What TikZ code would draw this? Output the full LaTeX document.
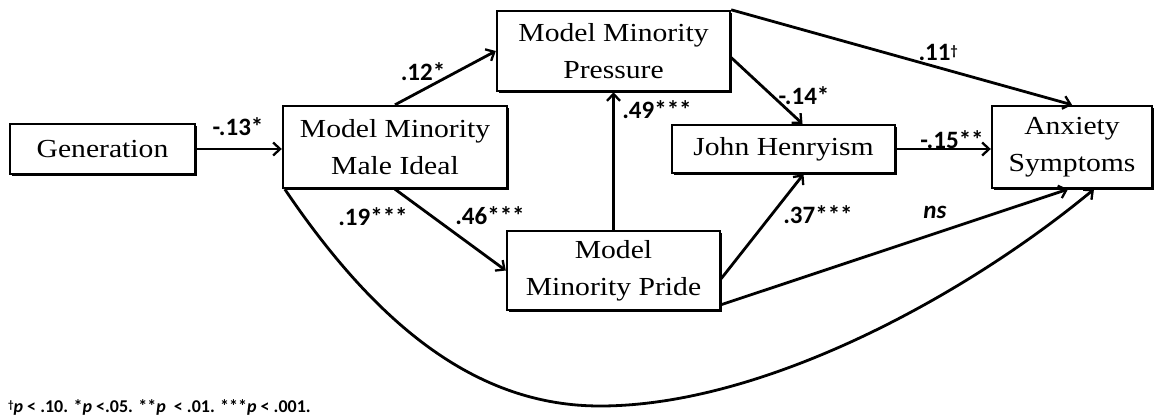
\documentclass[tikz,border=0pt]{standalone}
\usepackage{fontspec}
\setmainfont{Liberation Serif}[FakeStretch=1.14]
\newfontfamily\coeffont{Carlito}
\usetikzlibrary{arrows.meta,calc,shadows}

\begin{document}
\begin{tikzpicture}[x=1pt,y=-1pt,
  var/.style={draw, line width=2.4pt, fill=white, align=center, inner sep=0pt,
    font=\fontsize{26}{37}\selectfont,
    drop shadow={opacity=1, fill=black, shadow xshift=1.6pt, shadow yshift=-2pt}},
  conn/.style={line width=2.8pt,
    -{Straight Barb[length=7pt,width=13pt,line width=2.3pt]}},
  coef/.style={font=\coeffont\bfseries\fontsize{25}{28}\selectfont, inner sep=0pt},
  note/.style={font=\coeffont\bfseries\fontsize{18}{20}\selectfont, inner sep=0pt, anchor=base west}]

\useasboundingbox (0,0) rectangle (1156,420);

% variables
\node[var, minimum width=185pt, minimum height=50pt] (gen)   at (102.5,149) {Generation};
\node[var, minimum width=224pt, minimum height=82pt] (mmi)   at (395,147)   {Model Minority\\Male Ideal};
\node[var, minimum width=233pt, minimum height=80pt] (mmp)   at (613.5,51)  {Model Minority\\Pressure};
\node[var, minimum width=223pt, minimum height=48pt] (jh)    at (783.5,149) {John Henryism};
\node[var, minimum width=160pt, minimum height=82pt] (anx)   at (1072,147)  {Anxiety\\Symptoms};
\node[var, minimum width=213pt, minimum height=79pt] (pride) at (613.5,270.5) {Model\\Minority Pride};

% helper points on the box edges
\coordinate (mmpR)   at ($(mmp.north east)!0.58!(mmp.south east)$);
\coordinate (prideR) at ($(pride.north east)!0.6!(pride.south east)$);
\coordinate (prideL) at ($(pride.north east)!0.92!(pride.south east)$);
\coordinate (low)    at (600,406);

% paths
\draw[conn] (gen.east) -- (gen.east -| mmi.west);
\draw[conn] (mmi.north) -- (mmp.west);
\draw[conn] (mmi.south) -- (pride.west);
\draw[conn] (pride.north) -- (mmp.south);
\draw[conn] (mmpR) -- ([xshift=19pt]jh.north);
\draw[conn] (mmp.north east) -- (anx.north);
\draw[conn] (jh.east) -- (jh.east -| anx.west);
\draw[conn] (prideR) -- ([xshift=20pt]jh.south);
\draw[conn] (prideL) -- ([xshift=-4pt]anx.south);
\draw[conn] ([xshift=3pt]mmi.south west) .. controls (380,330) and (480,406) .. (low)
  .. controls (760,406) and (960,300) .. ([xshift=22pt]anx.south);

% coefficients
\node[coef] (c1) at (238,127) {-.13*};
\node[coef] (c2) at (423,72)  {.12*};
\node[coef] (c3) at (373,217) {.19***};
\node[coef] (c4) at (490,216) {.46***};
\node[coef] (c5) at (657,110) {.49***};
\node[coef] (c6) at (804,96)  {-.14*};
\node[coef] (c7) at (938,52)  {.11\raisebox{5pt}{\fontsize{14}{14}\selectfont\textdagger}};
\node[coef] (c8) at (952,140) {-.15**};
\node[coef] (c9) at (818,215) {.37***};
\node[coef] (c10) at (935,212) {\itshape ns};

% significance note
\node[note] (fn) at (8,412) {\raisebox{4pt}{\fontsize{11}{11}\selectfont\textdagger}\textit{p} < .10. *\textit{p} <.05. **\textit{p}\ \ < .01. ***\textit{p} < .001.};
\end{tikzpicture}
\end{document}
